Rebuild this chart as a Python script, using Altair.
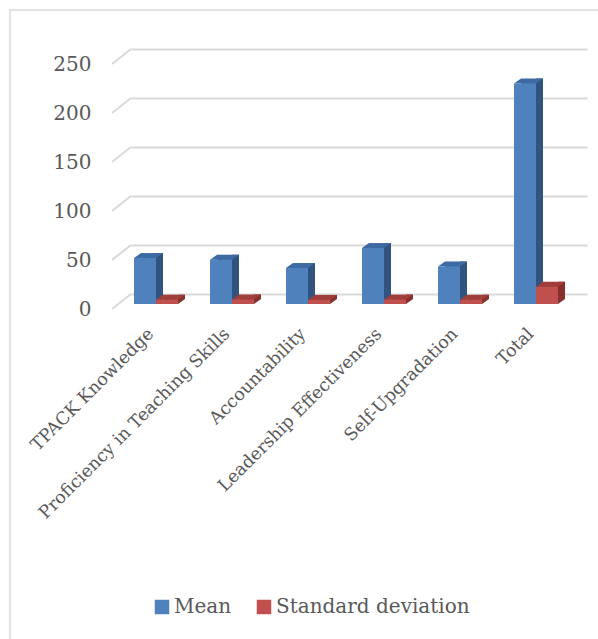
import altair as alt
import pandas as pd

# ---- data -------------------------------------------------------------
categories = [
    "TPACK Knowledge",
    "Proficiency in Teaching Skills",
    "Accountability",
    "Leadership Effectiveness",
    "Self-Upgradation",
    "Total",
]
mean_values = [46.9, 45.2, 36.7, 57.1, 38.3, 225.0]
sd_values = [4.4, 4.6, 4.2, 4.5, 4.3, 17.6]
axis_ticks = [0, 50, 100, 150, 200, 250]
series_names = ["Mean", "Standard deviation"]

bars = pd.DataFrame({"category": categories, "mean": mean_values, "sd": sd_values})
grid = pd.DataFrame({"tick": axis_ticks})

# ---- styling ----------------------------------------------------------
FONT = "DejaVu Serif"
TEXT = "#595959"
GRID = "#d9d9d9"
FRONT = {"Mean": "#4f81bd", "Standard deviation": "#c0504d"}
TOP = {"Mean": "#3e6aa3", "Standard deviation": "#a03e3b"}
SIDE = {"Mean": "#30537f", "Standard deviation": "#88302d"}

W, H = 456, 245          # back wall of the 3-D plot
BAR_W = 22               # bar face width (px)
DX, DY = 7, 5            # bar depth projection (px)
FRONT_X, FRONT_Y = -13, 10   # bar plane sits in front of the back wall
WALL_X, WALL_Y = 19, 15      # floor/wall depth for the gridline bends

# custom right-triangle symbols inside a 7x5 box (path units -1..1 -> 7 px)
TRI_UPPER_LEFT = "M-1,-0.714L1,-0.714L-1,0.714Z"
TRI_LOWER_RIGHT = "M-1,0.714L1,-0.714L1,0.714Z"

x_scale = alt.Scale(domain=categories, paddingInner=0, paddingOuter=0)
y_scale = alt.Scale(domain=[0, 250], nice=False, zero=True)
color_scale = alt.Scale(domain=series_names, range=[FRONT[s] for s in series_names])

X = alt.X("category:N", sort=categories, scale=x_scale, title=None)

legend = alt.Legend(
    title=None, orient="none", legendX=21, legendY=548, direction="horizontal",
    symbolType="square", symbolSize=210, symbolStrokeWidth=0,
    labelFont=FONT, labelFontSize=20, labelColor=TEXT,
    labelOffset=2, columnPadding=22, labelLimit=300,
)


def bar_layers(field, name, center):
    """Front face, top face and side face of one series of 3-D bars."""
    base = alt.Chart(bars)
    y = alt.Y(f"{field}:Q", scale=y_scale, title=None)
    y0 = alt.Y2(datum=0)
    xl = center - BAR_W / 2
    xr = center + BAR_W / 2

    # top face (part left of the side face), reaching down behind the front
    top = base.mark_bar(
        width=BAR_W - DX, color=TOP[name],
        xOffset=center + DX / 2, yOffset=FRONT_Y - DY, y2Offset=FRONT_Y,
    ).encode(x=X, y=y, y2=y0)

    # side face
    side = base.mark_bar(
        width=DX, color=SIDE[name],
        xOffset=xr + DX / 2, yOffset=FRONT_Y - DY, y2Offset=FRONT_Y - DY,
    ).encode(x=X, y=y, y2=y0)

    tri_kw = dict(size=49, filled=True, opacity=1, strokeWidth=0)
    bottom_corner = base.mark_point(
        shape=TRI_UPPER_LEFT, color=SIDE[name],
        xOffset=xr + DX / 2, yOffset=FRONT_Y - DY / 2, **tri_kw,
    ).encode(x=X, y=alt.Y(datum=0, scale=y_scale, title=None))

    top_right = base.mark_point(
        shape=TRI_UPPER_LEFT, color=TOP[name],
        xOffset=xr + DX / 2, yOffset=FRONT_Y - DY / 2, **tri_kw,
    ).encode(x=X, y=y)

    top_left = base.mark_point(
        shape=TRI_LOWER_RIGHT, color=TOP[name],
        xOffset=xl + DX / 2, yOffset=FRONT_Y - DY / 2, **tri_kw,
    ).encode(x=X, y=y)

    front = base.transform_calculate(series=f"'{name}'").mark_bar(
        width=BAR_W, xOffset=center, yOffset=FRONT_Y, y2Offset=FRONT_Y,
    ).encode(
        x=X, y=y, y2=y0,
        color=alt.Color("series:N", scale=color_scale, legend=legend),
    )
    return [top, side, bottom_corner, top_right, top_left, front]


# outer chart frame
frame = alt.Chart(pd.DataFrame({"k": [0]})).mark_rect(
    filled=False, stroke=GRID, strokeWidth=1.5
).encode(
    x=alt.value(10 - 131), x2=alt.value(700),
    y=alt.value(10 - 49), y2=alt.value(700),
)

# gridline bends from the back wall to the floor edge
bends = alt.Chart(grid).mark_rule(
    color=GRID, strokeWidth=2, y2Offset=WALL_Y
).encode(
    x=alt.value(0), x2=alt.value(-WALL_X),
    y=alt.Y("tick:Q", scale=y_scale, title=None),
    y2=alt.Y2("tick:Q"),
)

mean_center = FRONT_X - BAR_W / 2
sd_center = FRONT_X + BAR_W / 2

chart = alt.layer(
    frame,
    bends,
    *bar_layers("mean", "Mean", mean_center),
    *bar_layers("sd", "Standard deviation", sd_center),
).properties(
    width=W, height=H,
    autosize="none",
    padding={"left": 131, "top": 49, "right": 11, "bottom": 345},
    background="white",
).configure_view(
    strokeWidth=0
).configure_axisY(
    domain=False, ticks=False, grid=True, gridColor=GRID, gridWidth=2,
    tickCount=5, labelFont=FONT, labelFontSize=20, labelColor=TEXT,
    labelPadding=40, labelOffset=WALL_Y,
).configure_axisX(
    domain=False, ticks=False, grid=False,
    labelAngle=-45, labelAlign="right", labelBaseline="middle",
    labelFont=FONT, labelFontSize=17.5, labelColor=TEXT,
    labelPadding=37, labelOffset=-18, labelLimit=400,
)

chart.save("out.html", embed_options={"renderer": "svg", "actions": False})
